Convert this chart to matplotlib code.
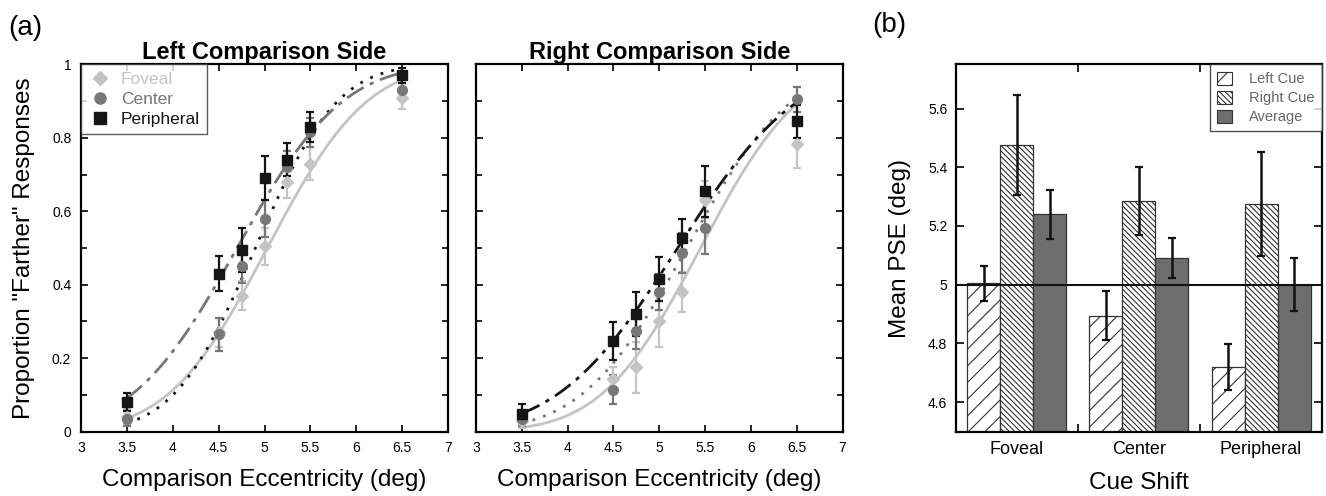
import math
import numpy as np
import matplotlib
matplotlib.use('Agg')
import matplotlib.pyplot as plt
from matplotlib.ticker import MultipleLocator, FormatStrFormatter
from matplotlib.patches import Patch
from matplotlib.lines import Line2D

plt.rcParams['font.family'] = ['Liberation Sans', 'DejaVu Sans']
plt.rcParams['hatch.linewidth'] = 0.8

# ---- dados (a): proporcao de respostas "mais longe" ----
ecc = [3.5, 4.5, 4.75, 5.0, 5.25, 5.5, 6.5]
conds = ['Foveal', 'Center', 'Peripheral']

left_mean = {
    'Foveal':     [0.040, 0.270, 0.370, 0.505, 0.680, 0.730, 0.910],
    'Center':     [0.035, 0.265, 0.450, 0.580, 0.720, 0.815, 0.930],
    'Peripheral': [0.080, 0.430, 0.495, 0.690, 0.740, 0.830, 0.970],
}
left_err = {
    'Foveal':     [0.020, 0.040, 0.040, 0.050, 0.045, 0.045, 0.030],
    'Center':     [0.020, 0.045, 0.045, 0.050, 0.045, 0.040, 0.020],
    'Peripheral': [0.025, 0.048, 0.060, 0.060, 0.045, 0.040, 0.020],
}
right_mean = {
    'Foveal':     [0.030, 0.142, 0.175, 0.300, 0.380, 0.632, 0.784],
    'Center':     [0.035, 0.114, 0.275, 0.380, 0.486, 0.554, 0.905],
    'Peripheral': [0.049, 0.246, 0.320, 0.416, 0.528, 0.654, 0.845],
}
right_err = {
    'Foveal':     [0.020, 0.035, 0.070, 0.070, 0.055, 0.050, 0.065],
    'Center':     [0.020, 0.040, 0.050, 0.050, 0.055, 0.070, 0.035],
    'Peripheral': [0.025, 0.052, 0.060, 0.060, 0.050, 0.070, 0.045],
}

# parametros das curvas ajustadas (PSE, sigma) da gaussiana acumulada
left_fit = {'Foveal': (5.03, 0.85), 'Center': (4.90, 0.70), 'Peripheral': (4.70, 0.90)}
right_fit = {'Foveal': (5.45, 0.85), 'Center': (5.30, 0.90), 'Peripheral': (5.20, 1.03)}

# ---- dados (b): PSE medio ----
cue_shift = ['Foveal', 'Center', 'Peripheral']
pse_left = [5.005, 4.895, 4.720]
pse_right = [5.475, 5.285, 5.275]
pse_avg = [5.240, 5.090, 5.000]
err_left = [0.060, 0.085, 0.078]
err_right = [0.170, 0.115, 0.178]
err_avg = [0.083, 0.068, 0.090]

cores = {'Foveal': '#c4c4c4', 'Center': '#777777', 'Peripheral': '#151515'}
marcadores = {'Foveal': 'D', 'Center': 'o', 'Peripheral': 's'}
tam = {'Foveal': 6.5, 'Center': 7, 'Peripheral': 7}


def cdf(x, mu, s):
    return 0.5 * (1 + math.erf((x - mu) / (s * math.sqrt(2))))


def painel_psico(ax, medias, erros, ajustes, estilos, titulo, rotula_y):
    xs = np.linspace(ecc[0], ecc[-1], 200)
    for c in conds:
        mu, s = ajustes[c]
        cor, ls, lw = estilos[c]
        ax.plot(xs, [cdf(v, mu, s) for v in xs], color=cor, ls=ls, lw=lw, zorder=2)
    for c in conds:
        ax.errorbar(ecc, medias[c], yerr=erros[c], fmt=marcadores[c], color=cores[c],
                    ms=tam[c], capsize=3, elinewidth=1.6, capthick=1.6, zorder=3,
                    label=c)
    ax.set_xlim(3, 7)
    ax.set_ylim(0, 1)
    ax.xaxis.set_major_locator(MultipleLocator(0.5))
    ax.yaxis.set_major_locator(MultipleLocator(0.2))
    ax.yaxis.set_minor_locator(MultipleLocator(0.1))
    ax.xaxis.set_major_formatter(FormatStrFormatter('%g'))
    ax.yaxis.set_major_formatter(FormatStrFormatter('%g'))
    ax.tick_params(which='both', direction='in', top=True, right=True,
                   labelsize=10, length=5, width=1.2, pad=7)
    ax.tick_params(which='minor', length=4)
    if not rotula_y:
        ax.tick_params(labelleft=False)
    for sp in ax.spines.values():
        sp.set_linewidth(1.6)
    ax.set_title(titulo, fontsize=17, fontweight='bold', pad=4)
    ax.set_xlabel('Comparison Eccentricity (deg)', fontsize=17.5, labelpad=10)


fig = plt.figure(figsize=(13.26, 4.96), dpi=100)
ax1 = fig.add_axes([0.0611, 0.130, 0.2768, 0.740])
ax2 = fig.add_axes([0.3590, 0.130, 0.2764, 0.740])
ax3 = fig.add_axes([0.7207, 0.130, 0.2764, 0.740])

tracodash = (0, (7, 2.5, 1.5, 2.5))
estilos_esq = {'Foveal': (cores['Foveal'], '-', 2.0),
               'Center': ('#151515', (0, (1, 3)), 2.0),
               'Peripheral': ('#777777', tracodash, 2.0)}
estilos_dir = {'Foveal': (cores['Foveal'], '-', 2.0),
               'Center': ('#777777', (0, (1, 3)), 2.0),
               'Peripheral': ('#151515', tracodash, 2.0)}

painel_psico(ax1, left_mean, left_err, left_fit, estilos_esq, 'Left Comparison Side', True)
painel_psico(ax2, right_mean, right_err, right_fit, estilos_dir, 'Right Comparison Side', False)
ax1.set_ylabel('Proportion "Farther" Responses', fontsize=17.5, labelpad=12)

handles = [Line2D([], [], ls='none', marker=marcadores[c], color=cores[c], ms=tam[c] + 1)
           for c in conds]
leg = ax1.legend(handles, conds, loc='upper left', fontsize=12.5, frameon=True, fancybox=False,
                 borderaxespad=0, handletextpad=0.5, borderpad=0.4, labelspacing=0.3,
                 handlelength=1.4)
leg.get_frame().set_edgecolor('#333333')
leg.get_frame().set_linewidth(1.0)
for t, c in zip(leg.get_texts(), conds):
    t.set_color(cores[c])

# ---- painel (b) ----
pos = np.arange(len(cue_shift))
w = 0.27
ax3.bar(pos - w, pse_left, w, color='white', edgecolor='#333333', hatch='//',
        lw=0.9, zorder=2)
ax3.bar(pos, pse_right, w, color='white', edgecolor='#333333', hatch='\\\\\\\\\\\\',
        lw=0.9, zorder=2)
ax3.bar(pos + w, pse_avg, w, color='#6e6e6e', edgecolor='#333333', lw=0.9, zorder=2)
ax3.errorbar(pos - w, pse_left, yerr=err_left, fmt='none', ecolor='#111111', capsize=3,
             elinewidth=1.8, capthick=1.6, zorder=4)
ax3.errorbar(pos, pse_right, yerr=err_right, fmt='none', ecolor='#111111', capsize=3,
             elinewidth=1.8, capthick=1.6, zorder=4)
ax3.errorbar(pos + w, pse_avg, yerr=err_avg, fmt='none', ecolor='#111111', capsize=3,
             elinewidth=1.8, capthick=1.6, zorder=4)
ax3.axhline(5.0, color='#111111', lw=1.5, zorder=3)
ax3.set_xlim(-0.5, 2.5)
ax3.set_ylim(4.5, 5.75)
ax3.set_xticks(pos)
ax3.set_xticklabels(cue_shift, fontsize=13)
ax3.set_xticks([0.5, 1.5], minor=True)
ax3.yaxis.set_major_locator(MultipleLocator(0.2))
ax3.yaxis.set_major_formatter(FormatStrFormatter('%g'))
ax3.tick_params(axis='x', which='major', length=0, pad=7)
ax3.tick_params(axis='x', which='minor', direction='in', top=True, length=6, width=1.2)
ax3.tick_params(axis='y', direction='in', right=True, labelsize=10, length=6, width=1.2,
                pad=6)
for sp in ax3.spines.values():
    sp.set_linewidth(1.6)
ax3.set_ylabel('Mean PSE (deg)', fontsize=17.5, labelpad=12)
ax3.set_xlabel('Cue Shift', fontsize=17.5, labelpad=10)

hs = [Patch(facecolor='white', edgecolor='#333333', hatch='//', lw=0.8),
      Patch(facecolor='white', edgecolor='#333333', hatch='\\\\\\\\\\\\', lw=0.8),
      Patch(facecolor='#6e6e6e', edgecolor='#333333', lw=0.8)]
leg2 = ax3.legend(hs, ['Left Cue', 'Right Cue', 'Average'], loc='upper right', fontsize=10.5,
                  frameon=True, fancybox=False, borderaxespad=0, handlelength=1.0,
                  handleheight=1.0, handletextpad=1.2, borderpad=0.5, labelspacing=0.3)
leg2.get_frame().set_edgecolor('#222222')
leg2.get_frame().set_linewidth(1.0)
for t in leg2.get_texts():
    t.set_color('#666666')

fig.text(0.006, 0.944, '(a)', fontsize=20, va='center', ha='left')
fig.text(0.658, 0.950, '(b)', fontsize=20, va='center', ha='left')

plt.savefig('out.png', dpi=100)
